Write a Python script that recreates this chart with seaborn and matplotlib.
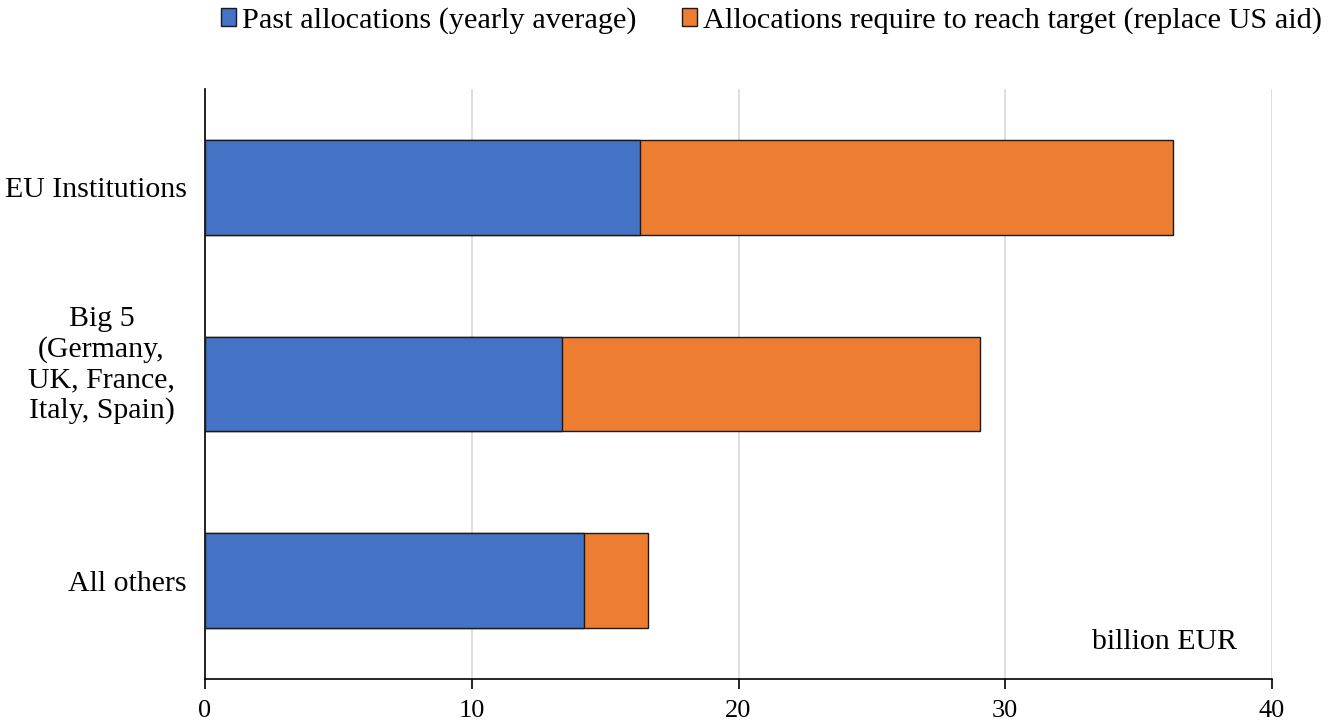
import matplotlib
matplotlib.use("Agg")
import matplotlib.pyplot as plt
import matplotlib.transforms as mtrans
from matplotlib.patches import Patch
import pandas as pd
import seaborn as sns

# ── Data ─────────────────────────────────────────────
categories = ["EU Institutions", "Big 5\n(Germany,\nUK, France,\nItaly, Spain)", "All others"]
past_alloc = [16.3, 13.4, 14.2]
required_alloc = [20.0, 15.65, 2.4]
series_names = ["Past allocations (yearly average)",
                "Allocations require to reach target (replace US aid)"]
x_ticks = [0, 10, 20, 30, 40]
unit_label = "billion EUR"

BLUE = "#4472C4"
ORANGE = "#ED7D31"
EDGE = "#1a1a1a"

sns.set_style("white")
plt.rcParams["font.family"] = ["Liberation Serif", "DejaVu Serif"]
plt.rcParams.update({
    "text.color": "black",
    "xtick.color": "black",
    "ytick.color": "black",
    "axes.labelcolor": "black",
})

df = pd.DataFrame({
    "category": categories,
    "past": past_alloc,
    "total": [p + r for p, r in zip(past_alloc, required_alloc)],
})

fig = plt.figure(figsize=(13.28, 7.22), dpi=100)
ax = fig.add_axes([205 / 1328, 43 / 722, 1067 / 1328, 590 / 722])

# totals first (orange), past on top (blue) -> stacked look
sns.barplot(data=df, y="category", x="total", orient="h", color=ORANGE,
            saturation=1, width=0.48, edgecolor=EDGE, linewidth=1.0, ax=ax, zorder=3)
sns.barplot(data=df, y="category", x="past", orient="h", color=BLUE,
            saturation=1, width=0.48, edgecolor=EDGE, linewidth=1.0, ax=ax, zorder=4)

ax.set_xlim(0, 40)
ax.set_ylim(2.5, -0.5)
ax.set_xticks(x_ticks)
ax.set_xlabel("")
ax.set_ylabel("")
ax.grid(axis="x", color="#d9d9d9", linewidth=1.2, zorder=0)
ax.set_axisbelow(True)

for side in ["top", "right"]:
    ax.spines[side].set_visible(False)
for side in ["left", "bottom"]:
    ax.spines[side].set_color("black")
    ax.spines[side].set_linewidth(1.2)

ax.tick_params(axis="x", labelsize=19, length=7, width=1.2, color="black",
               labelcolor="black", direction="out", bottom=True, pad=8)
ax.tick_params(axis="y", labelsize=21.5, length=0, pad=13, labelcolor="black")
for lbl in ax.get_yticklabels():
    lbl.set_multialignment("center")
    if "\n" in lbl.get_text():
        # multi-line label sits a bit higher and further left in the original
        lbl.set_transform(lbl.get_transform() +
                          mtrans.ScaledTranslation(-12 / 100, 24 / 100, fig.dpi_scale_trans))

ax.text(38.68, 2.347, unit_label, ha="right", va="baseline", fontsize=21.5, color="black")

handles = [Patch(facecolor=BLUE, edgecolor=EDGE, linewidth=1.0),
           Patch(facecolor=ORANGE, edgecolor=EDGE, linewidth=1.0)]
fig.legend(handles, series_names, loc="upper right", bbox_to_anchor=(1.016, 1.028),
           ncol=2, frameon=False, fontsize=21.8, handlelength=0.5, handleheight=0.5,
           handletextpad=0.2, columnspacing=1.5, labelcolor="black")

fig.savefig("out.png", dpi=100)
